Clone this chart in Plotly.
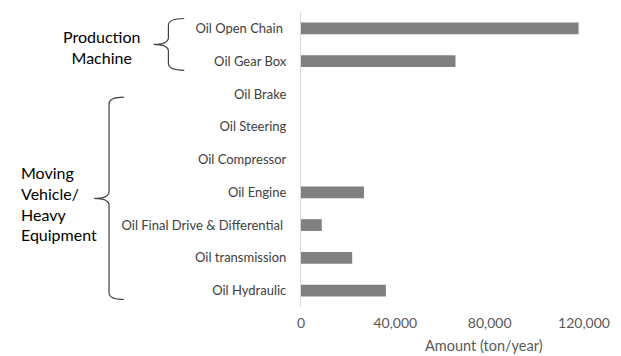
import plotly.graph_objects as go

categories = ["Oil Open Chain ", "Oil Gear Box", "Oil Brake", "Oil Steering", "Oil Compressor",
              "Oil Engine", "Oil Final Drive & Differential ", "Oil transmission", "Oil Hydraulic"]
amounts = [117700, 65500, 0, 0, 0, 26700, 8800, 21700, 36000]
tick_vals = [0, 40000, 80000, 120000]
tick_text = ["0", "40,000", "80,000", "120,000"]

W, H = 621, 356
L, R, T, B = 301, 34, 11.5, 48.5
pw, ph = W - L - R, H - T - B

def px(x):
    return (x - L) / pw

def py(y):
    return (H - B - y) / ph

def brace(x_end, x_stem, x_tip, y_top, y_bot):
    ym = (y_top + y_bot) / 2
    r = 7
    pts = [
        ("M", [(x_end, y_top)]),
        ("Q", [(x_stem, y_top), (x_stem, y_top + r)]),
        ("L", [(x_stem, ym - r)]),
        ("Q", [(x_stem, ym), (x_tip, ym)]),
        ("Q", [(x_stem, ym), (x_stem, ym + r)]),
        ("L", [(x_stem, y_bot - r)]),
        ("Q", [(x_stem, y_bot), (x_end, y_bot)]),
    ]
    s = ""
    for cmd, ps in pts:
        s += cmd + " " + " ".join(f"{px(a):.5f},{py(b):.5f}" for a, b in ps) + " "
    return dict(type="path", xref="paper", yref="paper", path=s.strip(),
                line=dict(color="#404040", width=1.2), layer="above")

fig = go.Figure(go.Bar(
    y=categories, x=amounts, orientation="h",
    marker=dict(color="#808080", line=dict(width=0)),
    width=0.36,
))

fig.update_layout(
    width=W, height=H,
    margin=dict(l=L, r=R, t=T, b=B),
    paper_bgcolor="white", plot_bgcolor="white",
    font=dict(family="Lato", color="#404040"),
    showlegend=False,
    xaxis=dict(range=[0, 120000], tickvals=tick_vals, ticktext=tick_text,
               showgrid=False, zeroline=False, showline=False, ticks="",
               ticklabelstandoff=6,
               tickfont=dict(size=14, color="#595959")),
    yaxis=dict(autorange="reversed", showgrid=False, zeroline=False,
               showline=True, linecolor="#d9d9d9", linewidth=1.2, ticks="",
               ticklabelstandoff=11,
               tickfont=dict(size=13, color="#404040")),
    shapes=[
        brace(183, 167, 152, 18, 70),
        brace(122, 107, 92, 97, 300),
    ],
    annotations=[
        dict(text="Amount (ton/year)", xref="paper", yref="paper",
             x=px(486), y=py(346), xanchor="center", yanchor="middle", showarrow=False,
             font=dict(size=14.5, color="#595959")),
        dict(text="Production<br>Machine", xref="paper", yref="paper",
             x=px(99), y=py(47), xanchor="center", yanchor="middle",
             showarrow=False, align="center",
             font=dict(size=16, color="#000000")),
        dict(text="Moving<br>Vehicle/<br>Heavy<br>Equipment", xref="paper", yref="paper",
             x=px(16), y=py(204), xanchor="left", yanchor="middle",
             showarrow=False, align="left",
             font=dict(size=16, color="#000000")),
    ],
)

fig.write_html("out.html")
